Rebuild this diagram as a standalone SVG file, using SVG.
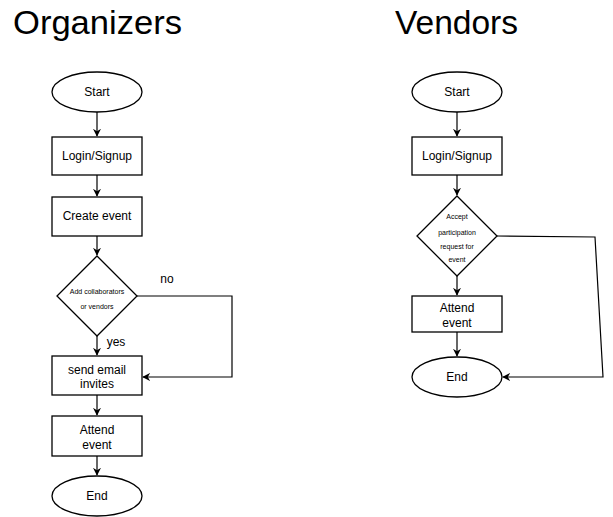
<svg xmlns="http://www.w3.org/2000/svg" width="613" height="517" viewBox="0 0 613 517">
<defs>
<marker id="ah" viewBox="0 0 10 10" refX="9" refY="5" markerWidth="8" markerHeight="8" markerUnits="userSpaceOnUse" orient="auto">
<path d="M0,0 L10,5 L0,10 L3,5 Z" fill="#000"/>
</marker>
<style>
.s{fill:#fff;stroke:#000;stroke-width:1.3}
.t{font-family:"Liberation Sans",Arial,sans-serif;font-size:12px;fill:#000;text-anchor:middle}
.sm{font-family:"Liberation Sans",Arial,sans-serif;font-size:7px;fill:#000;text-anchor:middle}
.h{font-family:"Liberation Sans",Arial,sans-serif;font-size:34px;fill:#000}
.c{fill:none;stroke:#000;stroke-width:1.2;marker-end:url(#ah)}
</style>
</defs>
<rect width="613" height="517" fill="#fff"/>
<text class="h" x="13" y="34" textLength="169" lengthAdjust="spacingAndGlyphs">Organizers</text>
<text class="h" x="395" y="34" textLength="123" lengthAdjust="spacingAndGlyphs">Vendors</text>
<g id="connectors">
<path class="c" d="M97,112 V136"/>
<path class="c" d="M97,175 V196"/>
<path class="c" d="M97,236 V255"/>
<path class="c" d="M97,336 V355"/>
<path class="c" d="M97,395 V415"/>
<path class="c" d="M97,456 V475"/>
<path class="c" d="M137,296 H232 V377 H143"/>
<path class="c" d="M457,112 V136"/>
<path class="c" d="M457,175 V195"/>
<path class="c" d="M457,276 V295"/>
<path class="c" d="M457,332 V356"/>
<path class="c" d="M497,236 L595,237 L603,377 H503"/>
<text class="t" x="167" y="283">no</text>
<text class="t" x="116" y="346">yes</text>
</g>
<g id="o-start"><ellipse class="s" cx="97" cy="92" rx="45" ry="20"/><text class="t" x="97" y="96">Start</text></g>
<g id="o-login"><rect class="s" x="52" y="137" width="90" height="38"/><text class="t" x="97" y="160">Login/Signup</text></g>
<g id="o-create"><rect class="s" x="52" y="197" width="90" height="39"/><text class="t" x="97" y="220">Create event</text></g>
<g id="o-decision"><path class="s" d="M97,256 L137,296 L97,336 L57,296 Z"/><text class="sm" x="97" y="294">Add collaborators</text><text class="sm" x="97" y="309">or vendors</text></g>
<g id="o-email"><rect class="s" x="52" y="356" width="90" height="39"/><text class="t" x="97" y="374">send email</text><text class="t" x="97" y="388">invites</text></g>
<g id="o-attend"><rect class="s" x="52" y="416" width="90" height="40"/><text class="t" x="97" y="434">Attend</text><text class="t" x="97" y="449">event</text></g>
<g id="o-end"><ellipse class="s" cx="97" cy="496" rx="45" ry="20"/><text class="t" x="97" y="500">End</text></g>
<g id="v-start"><ellipse class="s" cx="457" cy="92" rx="45" ry="20"/><text class="t" x="457" y="96">Start</text></g>
<g id="v-login"><rect class="s" x="412" y="137" width="90" height="38"/><text class="t" x="457" y="160">Login/Signup</text></g>
<g id="v-decision"><path class="s" d="M457,196 L497,236 L457,276 L417,236 Z"/><text class="sm" x="457" y="219">Accept</text><text class="sm" x="457" y="235">participation</text><text class="sm" x="457" y="249">request for</text><text class="sm" x="457" y="262">event</text></g>
<g id="v-attend"><rect class="s" x="412" y="296" width="90" height="36"/><text class="t" x="457" y="312">Attend</text><text class="t" x="457" y="327">event</text></g>
<g id="v-end"><ellipse class="s" cx="457" cy="377" rx="45" ry="20"/><text class="t" x="457" y="381">End</text></g>
</svg>
